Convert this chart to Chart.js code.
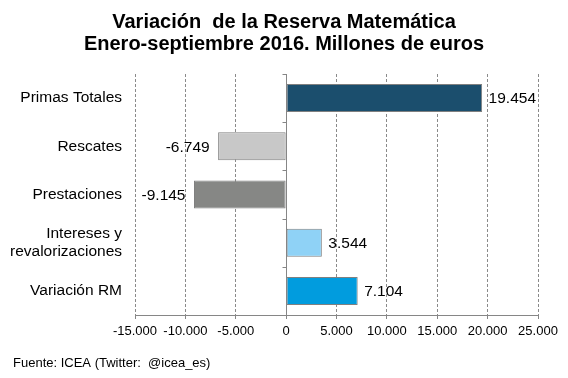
<!DOCTYPE html>
<html>
<head>
<meta charset="utf-8">
<script src="https://cdn.jsdelivr.net/npm/chart.js@4/dist/chart.umd.min.js"></script>
<style>
  html, body { margin: 0; padding: 0; background: #ffffff; }
  #wrap { width: 568px; height: 378px; }
</style>
</head>
<body>
<div id="wrap"><canvas id="c" width="568" height="378"></canvas></div>
<script>
// ---- data ----
const titleLines = ['Variación  de la Reserva Matemática', 'Enero-septiembre 2016. Millones de euros'];
const footerText = 'Fuente: ICEA (Twitter:  @icea_es)';
const categories = ['Primas Totales', 'Rescates', 'Prestaciones', ['Intereses y', 'revalorizaciones'], 'Variación RM'];
const values = [19454, -6749, -9145, 3544, 7104];
const barColors = ['#1b4e6d', '#c8c8c8', '#868785', '#8fd2f6', '#019cde'];
const axisMin = -15000;
const axisMax = 25000;
const axisStep = 5000;

const FONT = "'Liberation Sans', Arial, sans-serif";

function fmt(v) {
  const neg = v < 0;
  let s = String(Math.round(Math.abs(v)));
  s = s.replace(/\B(?=(\d{3})+(?!\d))/g, '.');
  return (neg ? '-' : '') + s;
}

const extras = {
  id: 'extras',
  beforeDatasetsDraw(chart) {
    const ctx = chart.ctx;
    const xs = chart.scales.x;
    const area = chart.chartArea;
    const x0 = Math.round(xs.getPixelForValue(0)) + 0.5;
    ctx.save();
    ctx.strokeStyle = '#868686';
    ctx.lineWidth = 1;
    ctx.setLineDash([]);
    ctx.beginPath();
    ctx.moveTo(x0, area.top);
    ctx.lineTo(x0, area.bottom);
    const n = categories.length;
    const step = (area.bottom - area.top) / n;
    for (let i = 0; i < n; i++) {
      const y = Math.round(area.top + i * step) + 0.5;
      ctx.moveTo(x0 - 4, y);
      ctx.lineTo(x0, y);
    }
    ctx.stroke();
    ctx.restore();
  },
  afterDatasetsDraw(chart) {
    const ctx = chart.ctx;
    const meta = chart.getDatasetMeta(0);
    ctx.save();
    ctx.font = '15.5px ' + FONT;
    ctx.fillStyle = '#000000';
    ctx.textBaseline = 'middle';
    meta.data.forEach((bar, i) => {
      const v = values[i];
      if (v >= 0) {
        ctx.textAlign = 'left';
        ctx.fillText(fmt(v), bar.x + 6.5, bar.y + 1);
      } else {
        ctx.textAlign = 'right';
        ctx.fillText(fmt(v), bar.x - 8.5, bar.y + 1);
      }
    });
    ctx.restore();
  },
  afterDraw(chart) {
    const ctx = chart.ctx;
    ctx.save();
    ctx.font = '13px ' + FONT;
    ctx.fillStyle = '#000000';
    ctx.textAlign = 'left';
    ctx.textBaseline = 'middle';
    ctx.fillText(footerText, 13, chart.scales.x.bottom + 18);
    ctx.restore();
  }
};

new Chart(document.getElementById('c'), {
  type: 'bar',
  data: {
    labels: categories,
    datasets: [{
      data: values,
      backgroundColor: barColors,
      borderColor: '#808080',
      borderWidth: 1,
      borderSkipped: false,
      barPercentage: 0.58,
      categoryPercentage: 1.0
    }]
  },
  options: {
    indexAxis: 'y',
    responsive: false,
    animation: false,
    devicePixelRatio: 1,
    layout: { padding: { left: 0, right: 0, top: 0, bottom: 33 } },
    plugins: {
      legend: { display: false },
      tooltip: { enabled: false },
      title: {
        display: true,
        text: titleLines,
        color: '#000000',
        font: { family: FONT, size: 20, weight: 'bold', lineHeight: 1.1 },
        padding: { top: 11, bottom: 19 }
      }
    },
    scales: {
      x: {
        min: axisMin,
        max: axisMax,
        afterFit(s) { s.height = 30; s.paddingLeft = 0; s.paddingRight = 30; },
        ticks: {
          stepSize: axisStep,
          color: '#000000',
          font: { family: FONT, size: 13 },
          padding: 5,
          maxRotation: 0,
          autoSkip: false,
          callback: (v) => fmt(v)
        },
        grid: {
          color: '#8a8a8a',
          lineWidth: 1,
          drawTicks: true,
          tickLength: 4,
          tickColor: '#868686',
          tickBorderDash: []
        },
        border: { display: true, color: '#868686', width: 1, dash: [3, 2] }
      },
      y: {
        afterFit(s) { s.width = 135; s.paddingTop = 0; s.paddingBottom = 0; },
        ticks: {
          color: '#000000',
          font: { family: FONT, size: 15.5, lineHeight: 1.2 },
          padding: 13,
          autoSkip: false
        },
        grid: { display: false, drawTicks: false },
        border: { display: false }
      }
    }
  },
  plugins: [extras]
});
</script>
</body>
</html>
